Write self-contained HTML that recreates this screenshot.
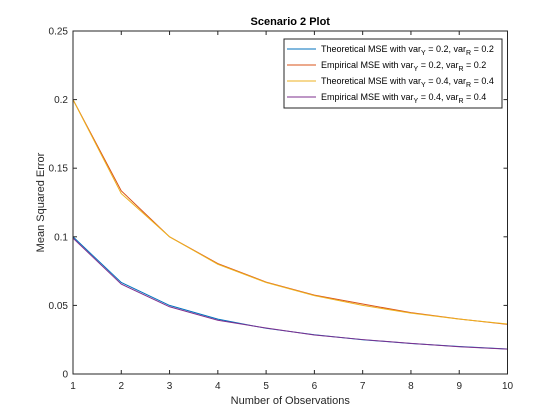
<!DOCTYPE html>
<html><head><meta charset="utf-8"><style>
body{margin:0;background:#fff;}
svg{display:block;font-family:"Liberation Sans",sans-serif;}
</style></head><body>
<svg id="chart" width="560" height="420"></svg>
<script>
const xCats=[1,2,3,4,5,6,7,8,9,10];
const theo02=[0.1,0.0667,0.05,0.04,0.0333,0.0286,0.025,0.0222,0.02,0.0182];
const emp02=[0.2,0.1335,0.1,0.0805,0.067,0.0575,0.051,0.0447,0.0401,0.0362];
const theo04=[0.2,0.1315,0.1,0.08,0.0667,0.0571,0.05,0.0444,0.04,0.0364];
const emp04=[0.099,0.0655,0.049,0.0392,0.0335,0.0284,0.0251,0.0223,0.0199,0.0181];
const zeroLine=[0,0,0,0,0,0,0,0,0,0];
const yTicks=[0,0.05,0.1,0.15,0.2,0.25];
const yLabels=["0","0.05","0.1","0.15","0.2","0.25"];
const L=73,R=507.5,T=31,B=374;
const X=v=>L+(v-1)/9*(R-L);
const Y=v=>B-v/0.25*(B-T);
const svg=document.getElementById('chart');
const NS="http://www.w3.org/2000/svg";
function mk(tag,attrs,parent){const e=document.createElementNS(NS,tag);for(const k in attrs)e.setAttribute(k,attrs[k]);(parent||svg).appendChild(e);return e;}
const bg=mk('rect',{x:L,y:T,width:R-L,height:B-T,fill:'#fff'});


const series=[[theo02,'#0072bd','theoretical-mse-0.2'],[emp02,'#d95319','empirical-mse-0.2'],[theo04,'#edb120','theoretical-mse-0.4'],[emp04,'#7e2f8e','empirical-mse-0.4'],[zeroLine,'#77ac30','zero-line']];
series.forEach(s=>{
const p=mk('polyline',{points:xCats.map((x,j)=>X(x)+','+Y(s[0][j])).join(' '),fill:'none',stroke:s[1],'stroke-width':1});

});
const ax=mk('rect',{x:L,y:T,width:R-L,height:B-T,fill:'none',stroke:'#262626','stroke-width':1});


xCats.forEach(x=>{
mk('line',{x1:X(x),x2:X(x),y1:B,y2:B-4,stroke:'#262626'});
mk('line',{x1:X(x),x2:X(x),y1:T,y2:T+4,stroke:'#262626'});
const t=mk('text',{x:X(x),y:B+15,'font-size':10,'text-anchor':'middle',fill:'#262626'});t.textContent=x;

});
yTicks.forEach((v,i)=>{
mk('line',{x1:L,x2:L+4,y1:Y(v),y2:Y(v),stroke:'#262626'});
mk('line',{x1:R,x2:R-4,y1:Y(v),y2:Y(v),stroke:'#262626'});
const t=mk('text',{x:L-5,y:Y(v)+3.5,'font-size':10,'text-anchor':'end',fill:'#262626'});t.textContent=yLabels[i];

});
const title=mk('text',{x:(L+R)/2,y:25,'font-size':11,'font-weight':'bold','text-anchor':'middle',fill:'#000'});title.textContent='Scenario 2 Plot';


const xt=mk('text',{x:(L+R)/2,y:404,'font-size':11,'text-anchor':'middle',fill:'#262626'});xt.textContent='Number of Observations';


const yt=mk('text',{x:0,y:0,'font-size':11,'text-anchor':'middle',fill:'#262626',transform:`translate(44,${(T+B)/2}) rotate(-90)`});yt.textContent='Mean Squared Error';


const lg=mk('g',{});


mk('rect',{x:284,y:39,width:218,height:69,fill:'#fff',stroke:'#262626','stroke-width':1},lg);
const legTxt=[['Theoretical MSE','0.2'],['Empirical MSE','0.2'],['Theoretical MSE','0.4'],['Empirical MSE','0.4']];
legTxt.forEach((lt,i)=>{const y=48+i*16;
mk('line',{x1:287,x2:316,y1:y+1,y2:y+1,stroke:series[i][1],'stroke-width':1},lg);
const t=mk('text',{x:321,y:y+4,'font-size':9,fill:'#000'},lg);
t.innerHTML=`${lt[0]} with var<tspan font-size="7" dy="3">Y</tspan><tspan dy="-3"> = ${lt[1]}, var</tspan><tspan font-size="7" dy="3">R</tspan><tspan dy="-3"> = ${lt[1]}</tspan>`;

});
</script>
</body></html>
